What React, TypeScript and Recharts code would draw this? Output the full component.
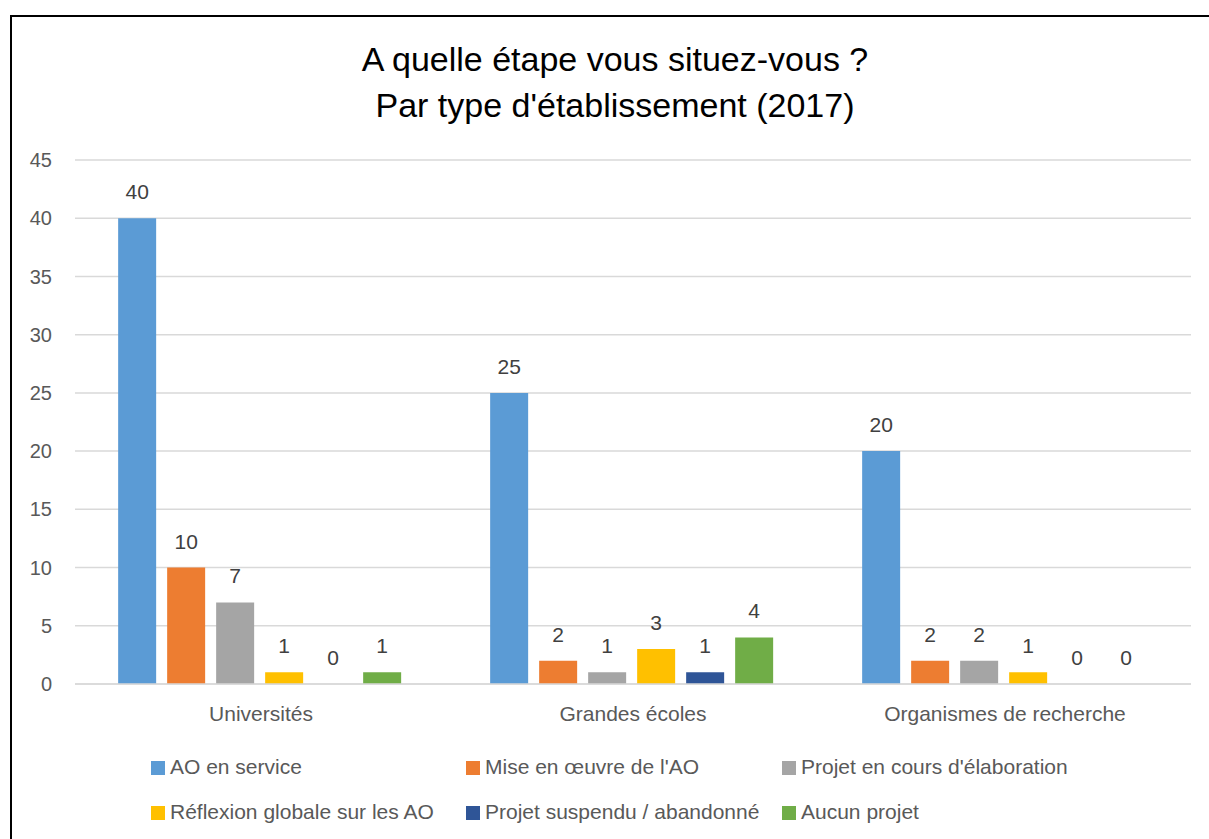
import React from 'react';
import { BarChart, Bar, XAxis, YAxis, CartesianGrid, LabelList } from 'recharts';

const categories = ['Universités', 'Grandes écoles', 'Organismes de recherche'];
const seriesNames = [
  'AO en service',
  "Mise en œuvre de l'AO",
  "Projet en cours d'élaboration",
  'Réflexion globale sur les AO',
  'Projet suspendu / abandonné',
  'Aucun projet',
];
const seriesKeys = ['s0', 's1', 's2', 's3', 's4', 's5'];
const aoEnService = [40, 25, 20];
const miseEnOeuvre = [10, 2, 2];
const projetElaboration = [7, 1, 2];
const reflexionGlobale = [1, 3, 1];
const projetSuspendu = [0, 1, 0];
const aucunProjet = [1, 4, 0];
const seriesValues = [aoEnService, miseEnOeuvre, projetElaboration, reflexionGlobale, projetSuspendu, aucunProjet];
const colors = ['#5b9bd5', '#ed7d31', '#a5a5a5', '#ffc000', '#2f5597', '#70ad47'];
const yTicks = [0, 5, 10, 15, 20, 25, 30, 35, 40, 45];
const titleLines = ['A quelle étape vous situez-vous ?', "Par type d'établissement (2017)"];

const data = categories.map((name, i) => {
  const row: Record<string, string | number> = { name };
  seriesKeys.forEach((k, j) => {
    row[k] = seriesValues[j][i];
  });
  return row;
});

const FONT = "'Liberation Sans', Arial, sans-serif";

export default function App() {
  const legendCols = [151, 466, 782];
  const legendRows = [761, 806];
  return (
    <div
      style={{
        position: 'fixed',
        left: 0,
        top: 0,
        width: 1209,
        height: 839,
        overflow: 'hidden',
        background: '#ffffff',
        fontFamily: FONT,
      }}
    >
      <div
        style={{
          position: 'absolute',
          left: 10,
          top: 15,
          width: 1400,
          height: 1000,
          border: '2px solid #000',
          boxSizing: 'border-box',
        }}
      />
      <div style={{ position: 'absolute', left: 0, top: 0 }}>
        <BarChart
          width={1209}
          height={839}
          data={data}
          margin={{ top: 160, right: 18, bottom: 115, left: 15 }}
          barCategoryGap="11.6%"
          barGap={11}
          style={{ fontFamily: FONT }}
        >
          <CartesianGrid vertical={false} stroke="#d9d9d9" strokeWidth={1.5} />
          <XAxis
            dataKey="name"
            height={40}
            axisLine={{ stroke: '#d9d9d9', strokeWidth: 1.5 }}
            tickLine={false}
            tickMargin={16}
            tick={{ fill: '#595959', fontSize: 21 }}
          />
          <YAxis
            width={60}
            domain={[0, 45]}
            ticks={yTicks}
            axisLine={false}
            tickLine={false}
            tickMargin={17}
            tick={{ fill: '#595959', fontSize: 20 }}
          />
          {seriesKeys.map((k, j) => (
            <Bar
              key={k}
              dataKey={k}
              name={seriesNames[j]}
              fill={colors[j]}
              minPointSize={0.01}
              isAnimationActive={false}
            >
              <LabelList dataKey={k} position="top" offset={19} fill="#404040" fontSize={21} />
            </Bar>
          ))}
        </BarChart>
      </div>
      <svg
        width={1209}
        height={839}
        style={{ position: 'absolute', left: 0, top: 0, pointerEvents: 'none' }}
      >
        <text x={615} y={71} textAnchor="middle" fontSize={34} fill="#000" fontFamily={FONT}>
          {titleLines[0]}
        </text>
        <text x={615} y={117} textAnchor="middle" fontSize={34} fill="#000" fontFamily={FONT}>
          {titleLines[1]}
        </text>
        {seriesNames.map((n, j) => {
          const x = legendCols[j % 3];
          const y = legendRows[Math.floor(j / 3)];
          return (
            <g key={n}>
              <rect x={x} y={y} width={14} height={14} fill={colors[j]} />
              <text x={x + 19} y={y + 13} fontSize={21} fill="#595959" fontFamily={FONT}>
                {n}
              </text>
            </g>
          );
        })}
      </svg>
    </div>
  );
}
